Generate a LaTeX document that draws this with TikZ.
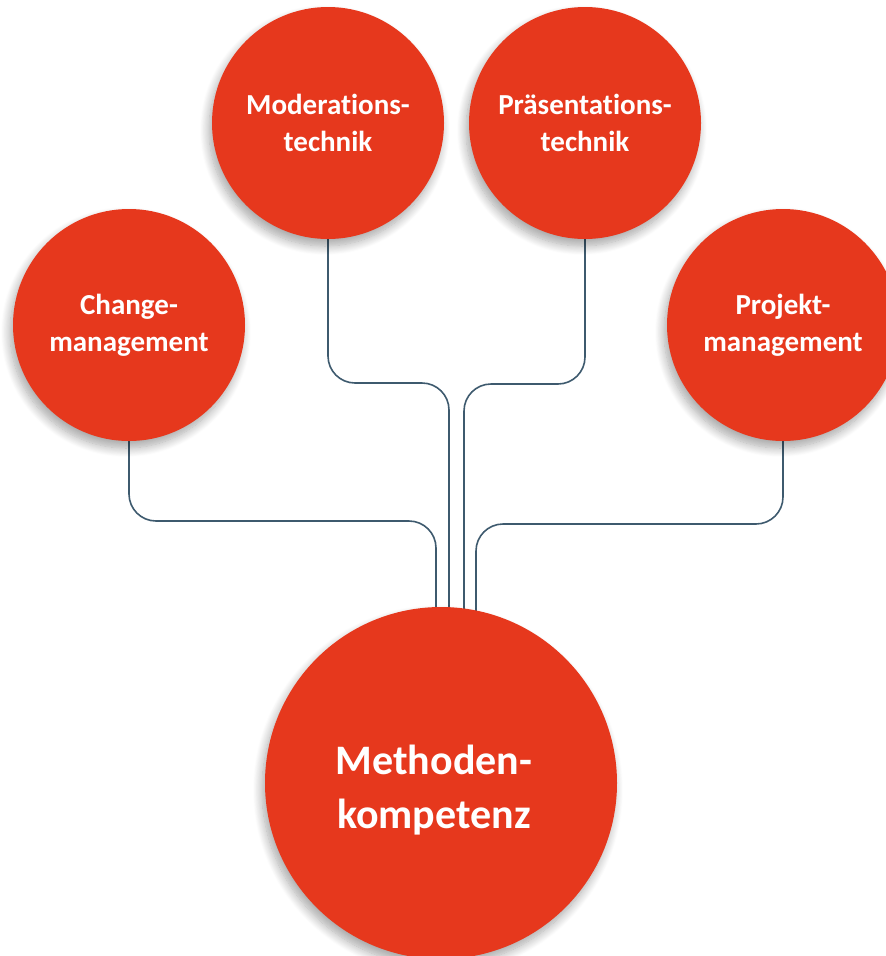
\documentclass[tikz,border=0pt]{standalone}
\usepackage{fontspec}
\setmainfont[Ligatures=NoCommon]{Carlito}
\usetikzlibrary{shadows.blur}
\definecolor{cred}{RGB}{230,56,29}
\definecolor{cline}{RGB}{62,90,110}
\pgfdeclarelayer{bg}
\pgfsetlayers{bg,main}
\begin{document}
\begin{tikzpicture}[x=1pt,y=-1pt,
  bubble/.style={circle, fill=cred, text=white,
    font=\bfseries\fontsize{29}{37}\selectfont, align=center,
    inner sep=0pt, minimum size=232pt,
    blur shadow={shadow xshift=-3pt, shadow yshift=-7pt,
      shadow blur radius=9pt, shadow blur steps=12, shadow opacity=35}},
  bigbubble/.style={bubble, minimum size=352pt, align=none,
    font=\bfseries\fontsize{42}{54}\selectfont},
  conn/.style={draw=cline, line width=1.6pt, rounded corners=27pt}]
\clip (0,0) rectangle (886,956);
\node[bubble] (mo) at (328,123) {Moderations-\\technik};
\node[bubble] (pr) at (585,123) {Präsentations-\\technik};
\node[bubble] (ch) at (129,325) {Change-\\management};
\node[bubble] (pj) at (783,325) {Projekt-\\management};
\node[bigbubble] (me) at (441,783) {\hspace*{-14pt}\raisebox{-8pt}[\height][\depth]{\begin{tabular}{@{}c@{}}Methoden-\\kompetenz\end{tabular}}};
\begin{pgfonlayer}{bg}
\draw[conn] (ch.south) -- (ch.south |- 0,521) -- (436,521) -- (me.center -| 436,0);
\draw[conn] (mo.south) -- (mo.south |- 0,383) -- (449,383) -- (me.center -| 449,0);
\draw[conn] (pr.south) -- (pr.south |- 0,384) -- (464,384) -- (me.center -| 464,0);
\draw[conn] (pj.south) -- (pj.south |- 0,524) -- (476,524) -- (me.center -| 476,0);
\end{pgfonlayer}
\end{tikzpicture}
\end{document}
